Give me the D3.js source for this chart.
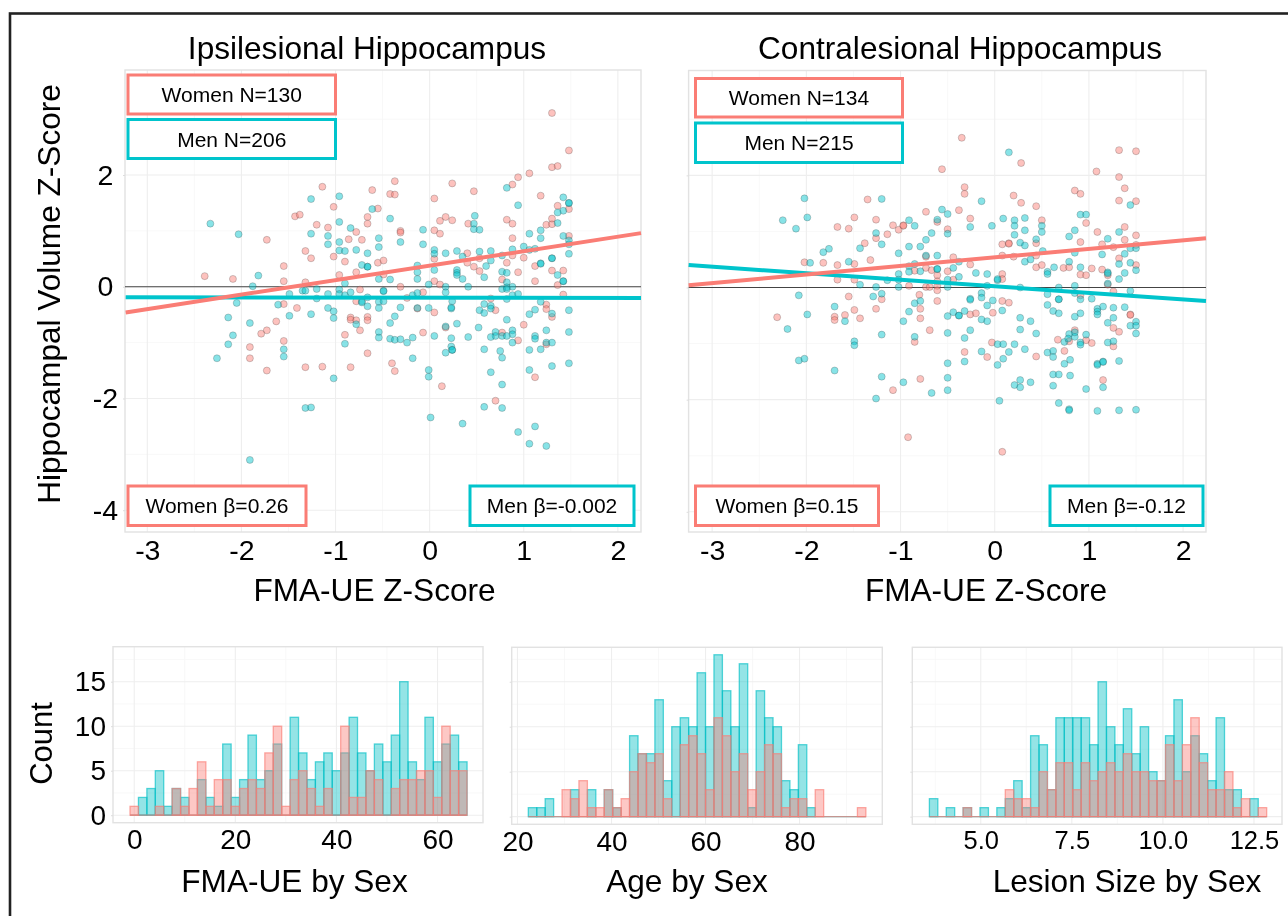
<!DOCTYPE html>
<html><head><meta charset="utf-8">
<script src="https://cdn.jsdelivr.net/npm/d3@7/dist/d3.min.js"></script>
<style>
html,body{margin:0;padding:0;background:#fff;overflow:hidden}
svg{display:block;font-family:"Liberation Sans",Arial,sans-serif;filter:blur(.42px)}
</style></head><body><div id="c"></div>
<script>
// ---------- Scatter data (FMA-UE z, hippocampal volume z) ----------
const ipsiWomen=[[1.30,3.11],[1.48,2.44],[1.30,2.14],[1.36,2.16],[1.06,2.03],[.94,1.96],[.88,1.83],[.24,1.85],[.47,1.71],[-.37,1.89],[-.61,1.73],[-.42,1.66],[-.37,1.65],[-1.14,1.79],[.05,1.58],[1.18,1.63],[-1.02,1.43],[-.55,1.40],[-1.43,1.26],[-1.38,1.29],[-.66,1.25],[-.66,1.13],[-1.20,1.11],[-1.08,1.06],[.11,1.18],[.17,1.25],[.24,1.19],[.41,1.13],[.82,1.20],[.88,1.13],[1.24,1.11],[1.30,1.12],[1.30,1.22],[1.36,1.45],[1.48,1.39],[-.78,.98],[-.31,1.00],[-.31,.97],[.05,1.01],[.11,.95],[-1.73,.84],[-.86,.85],[-.72,.84],[.88,.87],[1.48,.91],[-1.32,.64],[-1.26,.51],[-1.02,.54],[-.90,.45],[-1.55,.37],[-.55,.43],[-.49,.47],[.05,.50],[.40,.60],[.40,.43],[.53,.51],[.47,.36],[.53,.28],[.82,.43],[.88,.56],[1.00,.52],[1.12,.37],[.94,.26],[1.30,.29],[1.42,.29],[-2.39,.19],[-2.09,.14],[-1.55,.10],[-1.32,.08],[-.96,.21],[-.78,.26],[-.49,.22],[.05,.10],[.11,.04],[.77,.13],[1.12,.10],[1.36,.03],[-.31,0],[-.74,-.05],[-.07,-.10],[1.42,-.14],[-.78,-.26],[-1.55,-.31],[-1.41,-.38],[-.24,-.20],[.65,-.21],[-.13,-.39],[.05,-.46],[.70,-.42],[1.24,-.32],[1.24,-.40],[1.30,-.54],[-.84,-.55],[-.84,-.59],[-.78,-.60],[-.66,-.54],[-.66,-.60],[-1.63,-.62],[-1.73,-.78],[-1.79,-.84],[-.74,-.78],[-.90,-.86],[-1.55,-.97],[-1.91,-1.08],[-1.91,-1.28],[-1.73,-1.50],[-1.32,-1.44],[-1.14,-1.43],[-.84,-1.44],[-.66,-1.19],[-.40,-1.37],[-.37,-1.51],[-.07,-.82],[.17,-.73],[.77,-.82],[.94,-.96],[1.00,-.68],[1.24,-1.03],[1.12,-1.62],[.13,-1.78],[.70,-2.04]];
const ipsiMen=[[-2.33,1.13],[-2.03,.94],[-1.26,1.57],[-.96,1.62],[-.61,1.39],[-.42,1.22],[-.96,1.16],[-1.26,.95],[-1.08,.91],[-1.08,.76],[-.84,1.05],[-.96,.80],[-.96,.65],[-.90,.64],[-.78,.66],[-.66,.60],[-.54,.87],[-.54,.71],[-.31,.80],[-.07,1.02],[-.07,.76],[.05,.66],[.05,.59],[.17,.60],[.29,.64],[.35,.54],[.48,1.27],[.47,1.13],[.47,1.03],[.53,1.02],[.82,1.77],[.94,1.46],[1.42,1.60],[1.48,1.50],[1.48,1.50],[1.42,1.36],[1.36,1.33],[1.36,1.14],[1.18,1.01],[1.06,.95],[1.18,.87],[1.42,.91],[1.48,.83],[1.48,.76],[1.48,.59],[1.00,.72],[.88,.67],[1.12,.68],[1.06,.66],[.77,.56],[.65,.64],[.53,.63],[.65,.47],[.60,.37],[1.18,.42],[1.18,.41],[1.30,.51],[1.30,.51],[1.36,.21],[1.42,.10],[1.42,.10],[.77,.27],[.82,.25],[.58,.17],[.29,.30],[.29,.25],[.29,.21],[.35,.14],[.05,.30],[-.13,.38],[-.13,.26],[-.13,.14],[-.42,.13],[-.54,.14],[-.66,.36],[-.66,.36],[-.72,.39],[-1.82,.20],[-1.88,.01],[-.90,.06],[-.01,.04],[.17,0],[.41,0],[.82,.08],[.82,-.01],[.88,0],[-.49,-.07],[-1.49,-.13],[-1.35,-.07],[-1.32,-.07],[-1.20,-.04],[-1.08,-.13],[-.96,-.05],[-.96,-.13],[-.90,-.15],[-.84,-.10],[-.49,-.08],[-.18,-.15],[-.13,-.11],[.17,-.10],[.77,-.04],[.82,-.04],[.88,-.15],[.94,-.13],[-2.05,-.29],[-1.61,-.32],[-1.20,-.21],[-1.08,-.38],[-1.02,-.44],[-1.02,-.56],[-1.26,-.49],[-1.49,-.52],[-2.14,-.55],[-1.91,-.65],[-2.09,-.87],[-2.14,-1.03],[-2.26,-1.28],[-1.55,-1.12],[-1.55,-1.25],[-.72,-.26],[-.72,-.28],[-.66,-.19],[-.66,-.35],[-.54,-.27],[-.54,-.38],[-.49,-.26],[-.31,-.37],[-.37,-.53],[-.42,-.65],[-.78,-.67],[-.54,-.81],[-.54,-.91],[-.90,-1.02],[-.42,-.93],[-.37,-.95],[-.31,-.94],[-.24,-1.00],[-.18,-.91],[-.18,-1.28],[-.13,-.38],[-.01,-.38],[.23,-.39],[.23,-.37],[.24,-.26],[.17,-.71],[.29,-.66],[.05,-.88],[.23,-.92],[.41,-.90],[.52,-.73],[.53,-.42],[.58,-.31],[.58,-.47],[.65,-.34],[.65,-.39],[.82,-.22],[.82,-.59],[1.06,-.49],[1.12,-.41],[1.18,-.27],[1.30,-.48],[1.48,-.42],[1.48,-.81],[1.24,-.78],[.88,-.78],[.88,-.85],[.70,-.81],[.70,-.88],[.65,-.90],[.77,-.88],[.82,-.88],[.88,-1.00],[1.12,-.88],[1.12,-.93],[1.24,-1.00],[1.30,-1.00],[1.06,-1.13],[1.18,-1.12],[.58,-1.12],[.75,-1.15],[.77,-1.27],[.23,-1.07],[.24,-1.13],[.24,-1.13],[.17,-1.18],[-.01,-1.49],[-.01,-1.61],[-1.02,-1.64],[.65,-1.53],[.77,-1.75],[1.06,-1.49],[1.30,-1.42],[1.48,-1.37],[-1.32,-2.17],[-1.26,-2.16],[.01,-2.34],[.35,-2.45],[.58,-2.15],[.77,-2.17],[.94,-2.60],[1.12,-2.50],[1.06,-2.81],[1.24,-2.85],[-1.91,-3.10]];
const contraWomen=[[-.35,2.67],[-.56,2.11],[.28,2.22],[1.32,2.45],[1.50,2.43],[1.08,2.07],[1.32,1.97],[1.38,1.77],[1.32,1.55],[1.50,1.54],[-.32,1.79],[-.32,1.67],[.85,1.73],[.91,1.67],[.20,1.64],[.28,1.51],[.44,1.45],[-1.35,1.57],[-1.49,1.25],[-1.26,1.21],[-.73,1.35],[-.38,1.38],[-.26,1.23],[-.61,1.17],[-1.67,1.08],[-1.55,1.05],[-1.08,1.11],[-1.02,1.03],[-.97,1.11],[-.97,1.10],[-.50,1.04],[.50,1.20],[.97,1.15],[1.09,.99],[1.38,1.08],[1.50,.93],[-1.26,.88],[-1.14,.95],[-1.38,.79],[.08,.77],[.15,.79],[.15,.78],[.44,.79],[.91,.81],[1.14,.77],[1.26,.72],[1.38,.85],[1.50,.76],[-2.02,.45],[-1.82,.44],[-1.67,.40],[-1.49,.42],[-1.32,.49],[-.73,.55],[-.85,.30],[-.73,.35],[-.44,.54],[-.26,.41],[-.67,.31],[-.50,.29],[-.44,.14],[-.61,.22],[.08,.57],[.20,.55],[.44,.57],[.44,.36],[.50,.40],[.73,.35],[.79,.36],[.91,.23],[1.03,.34],[1.14,.32],[1.32,.52],[1.50,.40],[.08,.24],[.08,.15],[-1.67,.14],[-1.49,.14],[-.91,.03],[-.73,.01],[-.69,.01],[-.61,.11],[-.61,.03],[.97,.22],[1.20,.22],[1.20,.05],[-2.31,-.53],[-1.55,-.16],[-1.49,-.40],[-1.43,-.55],[-1.70,-.52],[-1.70,-.58],[-1.59,-.49],[-1.26,-.38],[-1.20,-.21],[-.80,-.13],[-.61,-.05],[-.61,-.24],[-.79,-.38],[-.79,-.55],[-.69,-.76],[-.85,-.97],[-.79,-1.63],[-1.08,-1.83],[-.92,-2.67],[-.26,-.48],[-.20,-.46],[-.02,-.45],[.08,-.24],[.15,-.27],[-.03,-.98],[-.32,-1.15],[-.08,-1.24],[.08,-2.93],[.44,-1.23],[.67,-.93],[.74,-1.13],[.79,-.96],[.85,-.76],[.97,-.94],[1.03,-.99],[.91,-.14],[1.26,-.07],[1.26,-.72],[1.32,-.79],[1.44,-.48],[1.44,-.49],[1.26,-1.05],[1.15,-1.65]];
const contraMen=[[.15,2.41],[-.14,1.54],[-2.02,1.59],[-1.20,1.58],[-1.99,1.25],[-2.25,1.20],[-2.11,1.05],[-.91,1.20],[-.85,1.10],[-.61,1.21],[-.56,1.39],[-.50,1.31],[-.26,1.08],[-.03,1.10],[.09,1.23],[.21,1.20],[.21,1.10],[.32,1.24],[.32,1.02],[.21,.94],[.50,1.10],[.50,.99],[.44,.86],[.91,1.30],[.97,1.30],[1.44,1.47],[.85,1.02],[.79,.91],[1.32,.99],[1.20,.87],[-.50,.96],[-.67,.97],[-.73,.85],[-1.26,.97],[-1.20,.77],[-1.43,.70],[-1.76,.69],[-1.82,.63],[-.91,.73],[-.79,.73],[-1.02,.61],[.27,.80],[.32,.75],[.51,.65],[.85,.62],[1.14,.59],[1.38,.60],[1.44,.70],[1.50,.70],[-1.96,.44],[-1.55,.46],[-.85,.42],[-.91,.38],[-.91,.28],[-.79,.29],[-.73,.57],[-.61,.57],[-.61,.33],[-.61,.33],[-1.02,.24],[-1.02,.14],[-1.14,.13],[-1.43,.05],[-1.26,.01],[-1.02,.01],[-.38,.46],[-.44,.35],[-.38,.19],[-.50,.14],[-.20,.26],[-.08,.24],[.03,.13],[.03,.15],[.32,.46],[.38,.50],[.56,.28],[.56,.24],[.63,.36],[.79,.46],[.91,.36],[1.32,.15],[1.20,.27],[1.20,.25],[1.38,.26],[1.44,.44],[1.50,.31],[1.32,.42],[.85,.03],[.68,0],[.27,0],[-.08,.03],[-.50,.01],[1.20,.07],[-2.08,-.14],[-1.70,-.34],[-1.99,-.48],[-1.59,-.60],[-2.20,-.74],[-1.29,-.16],[-1.20,-.11],[-.91,-.43],[-.85,-.28],[-.79,-.24],[-.97,-.60],[-1.20,-.84],[-1.49,-.96],[-1.49,-1.03],[-2.08,-1.30],[-2.02,-1.27],[-1.70,-1.48],[-.85,-.88],[-.50,-.51],[-.44,-.44],[-.38,-.50],[-.38,-.50],[-.32,-.42],[-.26,-.20],[-.26,-.22],[-.14,-.10],[-.14,-.18],[-.02,-.23],[-.08,-.32],[.08,-.41],[-.14,-.57],[-.08,-.60],[-.26,-.76],[-.32,-.90],[-.50,-.81],[-.14,-1.14],[-.32,-1.32],[-.50,-1.35],[-.50,-1.61],[-.50,-1.83],[-.97,-1.69],[-.67,-1.88],[-1.26,-1.98],[-1.20,-1.59],[.03,-1.01],[.09,-1.01],[.21,-1.01],[.15,-1.15],[.32,-1.10],[.09,-1.27],[.03,-1.38],[.27,-.54],[.38,-.60],[.27,-.75],[.44,-.82],[.56,-1.16],[.62,-1.13],[.62,-1.24],[.74,-1.36],[.80,-1.29],[.62,-1.55],[.68,-1.55],[.80,-1.57],[.62,-1.75],[.27,-1.65],[.21,-1.74],[.27,-1.78],[.38,-1.69],[.05,-2.02],[.68,-2.06],[.79,-2.17],[.79,-2.19],[1.09,-2.20],[1.32,-2.19],[1.50,-2.18],[.97,-1.81],[1.15,-1.78],[1.09,-1.36],[1.09,-1.38],[1.15,-1.32],[1.15,-1.33],[1.32,-1.31],[.56,-.12],[.56,-.31],[.62,-.42],[.68,-.46],[.68,-.21],[.68,-.21],[.85,-.52],[.91,-.46],[.91,-.21],[.85,-.10],[1.03,-.20],[1.09,-.38],[1.09,-.43],[1.09,-.48],[1.15,-.34],[1.26,-.36],[1.38,-.35],[1.26,-.54],[1.20,-.63],[1.44,-.06],[1.50,-.61],[1.44,-.68],[1.50,-.68],[1.50,-.82],[.74,-.97],[.79,-.83],[.78,-.91],[.85,-.88],[.85,-.80],[.97,-.84],[.91,-.98],[.91,-1.02],[1.20,-.98],[1.26,-.96]];
// Fitted lines: [x at left edge, y], [x at right edge, y]
const ipsiWomenFit=[[-3.23,-.46],[2.246,.96]];
const ipsiMenFit=[[-3.23,-.19],[2.246,-.2]];
const contraWomenFit=[[-3.25,.04],[2.243,.88]];
const contraMenFit=[[-3.25,.40],[2.243,-.24]];
// ---------- Annotation labels ----------
const ipsiLabels=["Women N=130","Men N=206","Women β=0.26","Men β=-0.002"];
const contraLabels=["Women N=134","Men N=215","Women β=0.15","Men β=-0.12"];
const scatterXTicks=[-3,-2,-1,0,1,2];
const scatterYTicks=[-4,-2,0,2];
// ---------- Histogram counts (40 bins) ----------
const fmaMen=[0,2,3,5,1,3,2,0,4,2,1,8,2,4,9,4,5,8,0,11,7,4,6,7,5,7,11,7,5,8,6,9,15,6,4,11,6,8,9,6];
const fmaWomen=[1,0,0,1,0,3,1,3,6,1,4,4,1,3,4,3,7,10,1,4,5,3,1,3,0,10,2,2,5,4,0,3,4,4,5,5,2,10,5,5];
const ageMen=[1,1,2,0,0,3,0,3,0,3,1,0,9,7,7,13,4,10,11,10,16,10,18,14,10,17,1,14,11,10,4,3,8,1,0,0,0,0,0,0];
const ageWomen=[0,0,0,0,3,2,4,1,1,3,1,2,5,7,6,7,2,0,8,9,7,3,11,9,5,7,3,5,8,7,1,2,2,0,3,0,0,0,0,1];
const lesionMen=[2,0,1,0,1,0,1,0,1,2,4,1,9,8,3,11,11,11,11,8,15,10,8,12,7,10,5,4,9,13,5,9,7,4,11,3,3,0,2,0];
const lesionWomen=[0,0,0,0,1,0,0,0,0,3,2,2,1,5,3,6,6,3,6,4,5,6,5,7,5,5,4,4,8,4,8,11,6,3,3,5,1,2,0,1];
const fmaBins={first:0,step:1.667}, ageBins={first:23.2,step:1.795}, lesionBins={first:3.705,step:.2315};
const fmaTicks=[0,20,40,60], ageTicks=[20,40,60,80], lesionTicks=[5,7.5,10,12.5], countTicks=[0,5,10,15];

const W=1288,H=916,C_W="#FA7D75",C_M="#00C4CC";
const svg=d3.select("#c").append("svg").attr("width",W).attr("height",H).style("background","#fff");
svg.append("rect").attr("x",10).attr("y",13.5).attr("width",1400).attr("height",1000).attr("fill","none").attr("stroke","#222").attr("stroke-width",2.6);

function grid(g,x,y,xMajor,xMinor,yMajor,yMinor,r){
  const line=(cls,vals,isX,col,w)=>g.selectAll("line."+cls).data(vals).join("line").attr("class",cls)
    .attr("x1",d=>isX?x(d):r.l).attr("x2",d=>isX?x(d):r.r).attr("y1",d=>isX?r.t:y(d)).attr("y2",d=>isX?r.b:y(d))
    .attr("stroke",col).attr("stroke-width",w);
  line("xmin",xMinor,true,"#f6f6f6",.8); line("ymin",yMinor,false,"#f6f6f6",.8);
  line("xmaj",xMajor,true,"#eeeeee",1.1); line("ymaj",yMajor,false,"#eeeeee",1.1);
  g.append("rect").attr("x",r.l).attr("y",r.t).attr("width",r.r-r.l).attr("height",r.b-r.t).attr("fill","none").attr("stroke","#e2e2e2").attr("stroke-width",1.4);
}
function xAxis(g,x,r,ticks,fs,fmt,pad){
  const a=g.append("g").attr("transform",`translate(0,${r.b})`).call(d3.axisBottom(x).tickValues(ticks).tickSize(0).tickPadding(pad).tickFormat(fmt||(d=>String(d))));
  a.select(".domain").remove();
  a.selectAll("text").attr("font-size",fs).attr("fill","#000");
}
function yAxis(g,y,r,ticks,fs,labels,anchor,tx){
  const a=g.append("g").attr("transform",`translate(${r.l},0)`).call(d3.axisLeft(y).tickValues(ticks).tickSize(2).tickPadding(8).tickFormat(labels?(d=>String(d)):""));
  a.select(".domain").remove();
  a.selectAll("line").attr("stroke","#ddd");
  if(labels) a.selectAll("text").attr("font-size",fs).attr("fill","#000").attr("text-anchor",anchor).attr("x",tx-r.l);
}
function boxLabel(g,x0,x1,y0,y1,col,t){
  g.append("rect").attr("x",x0).attr("y",y0).attr("width",x1-x0).attr("height",y1-y0).attr("fill","#fff").attr("stroke",col).attr("stroke-width",3);
  g.append("text").attr("x",(x0+x1)/2).attr("y",(y0+y1)/2).attr("dy",".36em").attr("text-anchor","middle").attr("font-size",21).attr("fill","#000").text(t);
}
function scatter(o){
  const r=o.r,g=svg.append("g");
  const x=d3.scaleLinear().domain(o.xd).range([r.l,r.r]);
  const y=d3.scaleLinear().domain(o.yd).range([r.b,r.t]);
  grid(g,x,y,scatterXTicks,[-2.5,-1.5,-.5,.5,1.5],[-4,-2,0,2],[-3,-1,1,3],r);
  g.append("line").attr("x1",r.l).attr("x2",r.r).attr("y1",y(0)).attr("y2",y(0)).attr("stroke","#444").attr("stroke-width",1.1);
  const pts=(data,col)=>g.append("g").selectAll("circle").data(data).join("circle")
    .attr("cx",d=>x(d[0])).attr("cy",d=>y(d[1])).attr("r",3.5)
    .attr("fill",col).attr("fill-opacity",.47).attr("stroke","#333").attr("stroke-opacity",.34).attr("stroke-width",.7);
  pts(o.women,C_W); pts(o.men,C_M);
  const ln=d3.line().x(d=>x(d[0])).y(d=>y(d[1]));
  g.append("path").attr("d",ln(o.menFit)).attr("fill","none").attr("stroke",C_M).attr("stroke-width",4);
  g.append("path").attr("d",ln(o.womenFit)).attr("fill","none").attr("stroke",C_W).attr("stroke-width",4);
  xAxis(g,x,r,scatterXTicks,28.5,null,7.5);
  yAxis(g,y,r,scatterYTicks,28.5,o.showY,"middle",105.5);
  o.boxes.forEach((b,i)=>boxLabel(g,b[0],b[1],b[2],b[3],i%2?C_M:C_W,o.labels[i]));
  g.append("text").attr("x",o.titleX).attr("y",59).attr("text-anchor","middle").attr("font-size",31.6).text(o.title);
  g.append("text").attr("x",o.xlabX).attr("y",601).attr("text-anchor","middle").attr("font-size",31.6).text("FMA-UE Z-Score");
}
scatter({r:{l:125,r:641,t:70,b:532},xd:[-3.237,2.246],yd:[-4.39,3.88],women:ipsiWomen,men:ipsiMen,womenFit:ipsiWomenFit,menFit:ipsiMenFit,showY:true,
  labels:ipsiLabels,boxes:[[128,335.5,75,114],[128,335.5,119.5,158.5],[128,306,486,525.5],[470,634,486,525.5]],title:"Ipsilesional Hippocampus",titleX:367,xlabX:374.5});
scatter({r:{l:688.6,r:1206,t:70.5,b:532},xd:[-3.25,2.243],yd:[-4.36,3.87],women:contraWomen,men:contraMen,womenFit:contraWomenFit,menFit:contraMenFit,showY:false,
  labels:contraLabels,boxes:[[695.5,902.5,78.5,117],[695.5,902.5,123,162.5],[695.5,878.5,486,525.5],[1050,1203,486,525.5]],title:"Contralesional Hippocampus",titleX:960,xlabX:986});
svg.append("text").attr("transform","translate(60,294) rotate(-90)").attr("text-anchor","middle").attr("font-size",31.6).text("Hippocampal Volume Z-Score");

function hist(o){
  const r=o.r,g=svg.append("g");
  const x=d3.scaleLinear().domain(o.xd).range([r.l,r.r]);
  const y=d3.scaleLinear().domain(o.yd).range([r.b,r.t]);
  grid(g,x,y,o.xt,o.xm,countTicks,[2.5,7.5,12.5,17.5],r);
  const n=o.men.length;
  const bars=(data,col)=>{
    g.append("line").attr("x1",x(o.bins.first-.5*o.bins.step)).attr("x2",x(o.bins.first+(n-.5)*o.bins.step)).attr("y1",y(0)).attr("y2",y(0))
      .attr("stroke",col).attr("stroke-opacity",.7).attr("stroke-width",1.2);
    g.append("g").selectAll("rect").data(data).join("rect")
    .attr("x",(d,i)=>x(o.bins.first+(i-.5)*o.bins.step)).attr("width",(d,i)=>x(o.bins.first+(i+.5)*o.bins.step)-x(o.bins.first+(i-.5)*o.bins.step))
    .attr("y",d=>y(d)).attr("height",d=>y(0)-y(d))
    .attr("fill",col).attr("fill-opacity",.42).attr("stroke",col).attr("stroke-opacity",.65).attr("stroke-width",1.3);
  };
  bars(o.men,"#00BFC4"); bars(o.women,"#FA7D75");
  xAxis(g,x,r,o.xt,o.fs,o.fmt,6.5);
  yAxis(g,y,r,countTicks,28,o.showY,"end",106);
  g.append("text").attr("x",o.labX).attr("y",892).attr("text-anchor","middle").attr("font-size",31.6).text(o.label);
}
hist({r:{l:113,r:483,t:646.7,b:822.7},xd:[-4.2,69],yd:[-.84,18.93],bins:fmaBins,men:fmaMen,women:fmaWomen,xt:fmaTicks,xm:[10,30,50],fs:28,showY:true,label:"FMA-UE by Sex",labX:294.5});
hist({r:{l:511.7,r:882.3,t:647.3,b:824.3},xd:[18.77,97.6],yd:[-.85,18.83],bins:ageBins,men:ageMen,women:ageWomen,xt:ageTicks,xm:[30,50,70,90],fs:28,showY:false,label:"Age by Sex",labX:687});
hist({r:{l:912.3,r:1282,t:647.3,b:824.3},xd:[3.12,13.27],yd:[-.85,18.83],bins:lesionBins,men:lesionMen,women:lesionWomen,xt:lesionTicks,xm:[3.75,6.25,8.75,11.25],fs:25.5,fmt:d3.format(".1f"),showY:false,label:"Lesion Size by Sex",labX:1127});
svg.append("text").attr("transform","translate(52,743.5) rotate(-90)").attr("text-anchor","middle").attr("font-size",31).text("Count");
</script></body></html>
